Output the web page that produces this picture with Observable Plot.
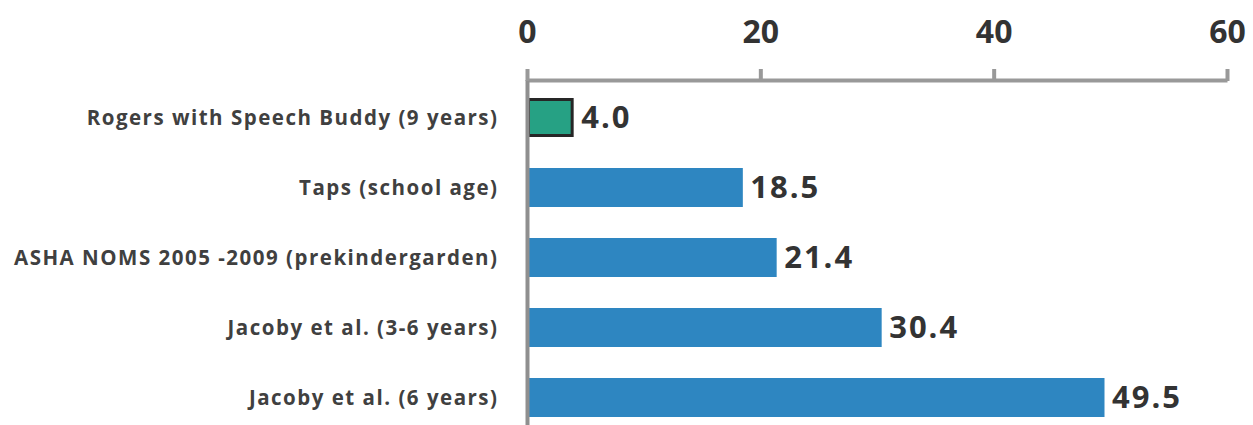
<!DOCTYPE html>
<html>
<head>
<meta charset="utf-8">
<script src="https://cdn.jsdelivr.net/npm/d3@7"></script>
<script src="https://cdn.jsdelivr.net/npm/@observablehq/plot@0.6"></script>
<style>
  html, body { margin: 0; padding: 0; background: #fff; }
  #chart svg { font-family: "Open Sans", sans-serif; display: block; }
  #chart g[aria-label="y-axis tick label"] text { letter-spacing: 1.5px; }
  #chart g[aria-label="text"] text { letter-spacing: 2px; }
</style>
</head>
<body>
<div id="chart"></div>
<script>
const categories = [
  "Rogers with Speech Buddy (9 years)",
  "Taps (school age)",
  "ASHA NOMS 2005 -2009 (prekindergarden)",
  "Jacoby et al. (3-6 years)",
  "Jacoby et al. (6 years)"
];
const values = [4.0, 18.5, 21.4, 30.4, 49.5];
const highlighted = [true, false, false, false, false];
const xTicks = [0, 20, 40, 60];

const data = categories.map((c, i) => ({category: c, value: values[i], hl: highlighted[i]}));

const chart = Plot.plot({
  width: 1253,
  height: 425,
  marginLeft: 527,
  marginRight: 26,
  marginTop: 80,
  marginBottom: 0,
  style: {fontFamily: "Open Sans, sans-serif", background: "#fff"},
  x: {domain: [0, 60]},
  y: {domain: categories, range: [83, 433], paddingInner: 0.44, paddingOuter: 0.22},
  marks: [
    Plot.frame({stroke: "#999", strokeWidth: 4, strokeDasharray: "700,100000"}),
    Plot.barX(data.filter(d => !d.hl), {x: "value", y: "category", fill: "#2e86c1"}),
    Plot.barX(data.filter(d => d.hl), {x: "value", y: "category", fill: "#26a184", stroke: "#262626", strokeWidth: 3, inset: 1.5}),
    Plot.ruleX([0], {stroke: "#8f8f8f", strokeWidth: 4}),
    Plot.text(data, {x: "value", y: "category", text: d => d.value.toFixed(1), textAnchor: "start", dx: 7, fontSize: 31, fontWeight: 700, fill: "#333"}),
    Plot.axisX(xTicks, {anchor: "top", tickSize: 12, tickPadding: 26, stroke: "#999", strokeWidth: 4, fill: "#333", fontSize: 32, fontWeight: 700, label: null, tickFormat: d => String(d)}),
    Plot.axisY({tickSize: 0, tickPadding: 29, fill: "#404040", fontSize: 20.5, fontWeight: 700, label: null})
  ]
});
document.getElementById("chart").appendChild(chart);
</script>
</body>
</html>
